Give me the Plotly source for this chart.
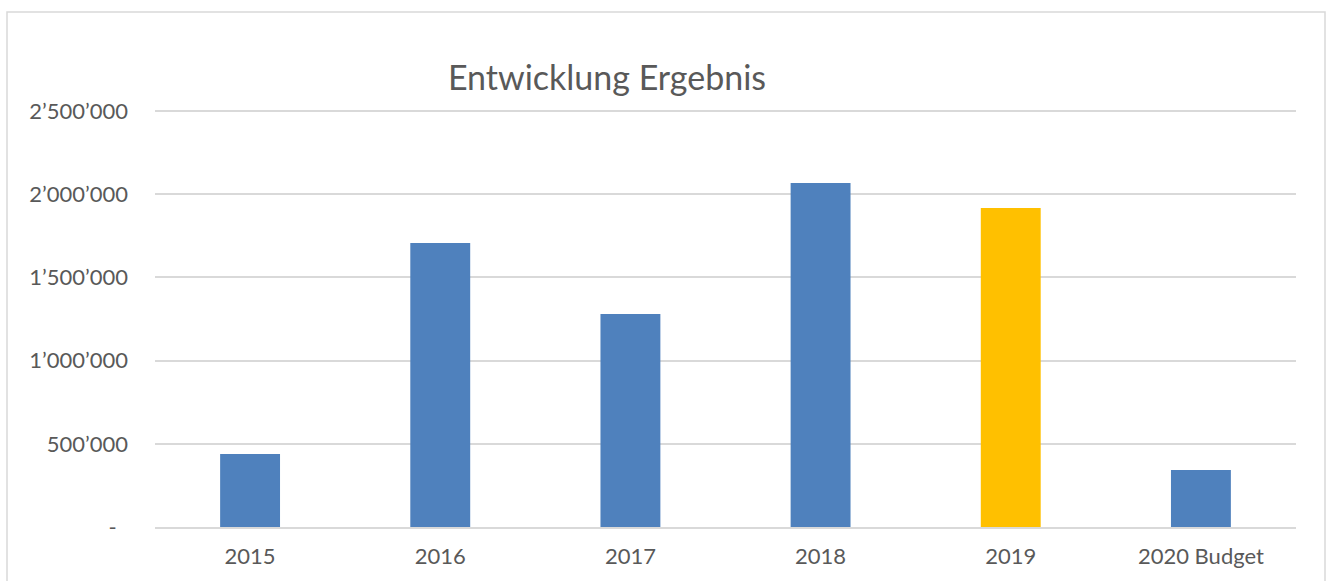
import plotly.graph_objects as go

categories = ["2015", "2016", "2017", "2018", "2019", "2020 Budget"]
values = [439000, 1707000, 1280000, 2067000, 1917000, 342000]
bar_colors = ["#4F81BD", "#4F81BD", "#4F81BD", "#4F81BD", "#FFC000", "#4F81BD"]
y_tickvals = [0, 500000, 1000000, 1500000, 2000000, 2500000]
y_ticktext = ["-\u00a0\u00a0", "500’000", "1’000’000", "1’500’000", "2’000’000", "2’500’000"]
title_text = "Entwicklung Ergebnis"

fig = go.Figure(go.Bar(x=categories, y=values, marker=dict(color=bar_colors, line=dict(width=0)),
                       width=0.315))

font_family = "Lato, Open Sans, sans-serif"
ph = 581 - 106 - 54
fig.update_layout(
    width=1333, height=581,
    margin=dict(l=155, r=37, t=106, b=54),
    paper_bgcolor="white", plot_bgcolor="white",
    showlegend=False,
    title=dict(text=title_text, x=607/1333, xanchor="center", y=1-78/581, yanchor="middle",
               yref="container", xref="container",
               font=dict(family=font_family, size=34, color="#595959")),
    xaxis=dict(showgrid=False, showline=True, linecolor="#D9D9D9", linewidth=1.5,
               tickfont=dict(family=font_family, size=22, color="#595959"),
               ticks="", ticklabelstandoff=9, automargin=False),
    yaxis=dict(range=[0, 2530000], tickvals=y_tickvals, ticktext=y_ticktext,
               showgrid=True, gridcolor="#D9D9D9", gridwidth=1.5, zeroline=False,
               showline=False, automargin=False,
               tickfont=dict(family=font_family, size=22, color="#595959"),
               ticks="", ticklabelstandoff=26),
    shapes=[dict(type="rect", xref="paper", yref="paper",
                 x0=(7-155)/1141, x1=(1325-155)/1141,
                 y0=(527-600)/ph, y1=(527-12)/ph,
                 line=dict(color="#D9D9D9", width=1.5), fillcolor="rgba(0,0,0,0)", layer="below")],
)

fig.write_html("out.html")
